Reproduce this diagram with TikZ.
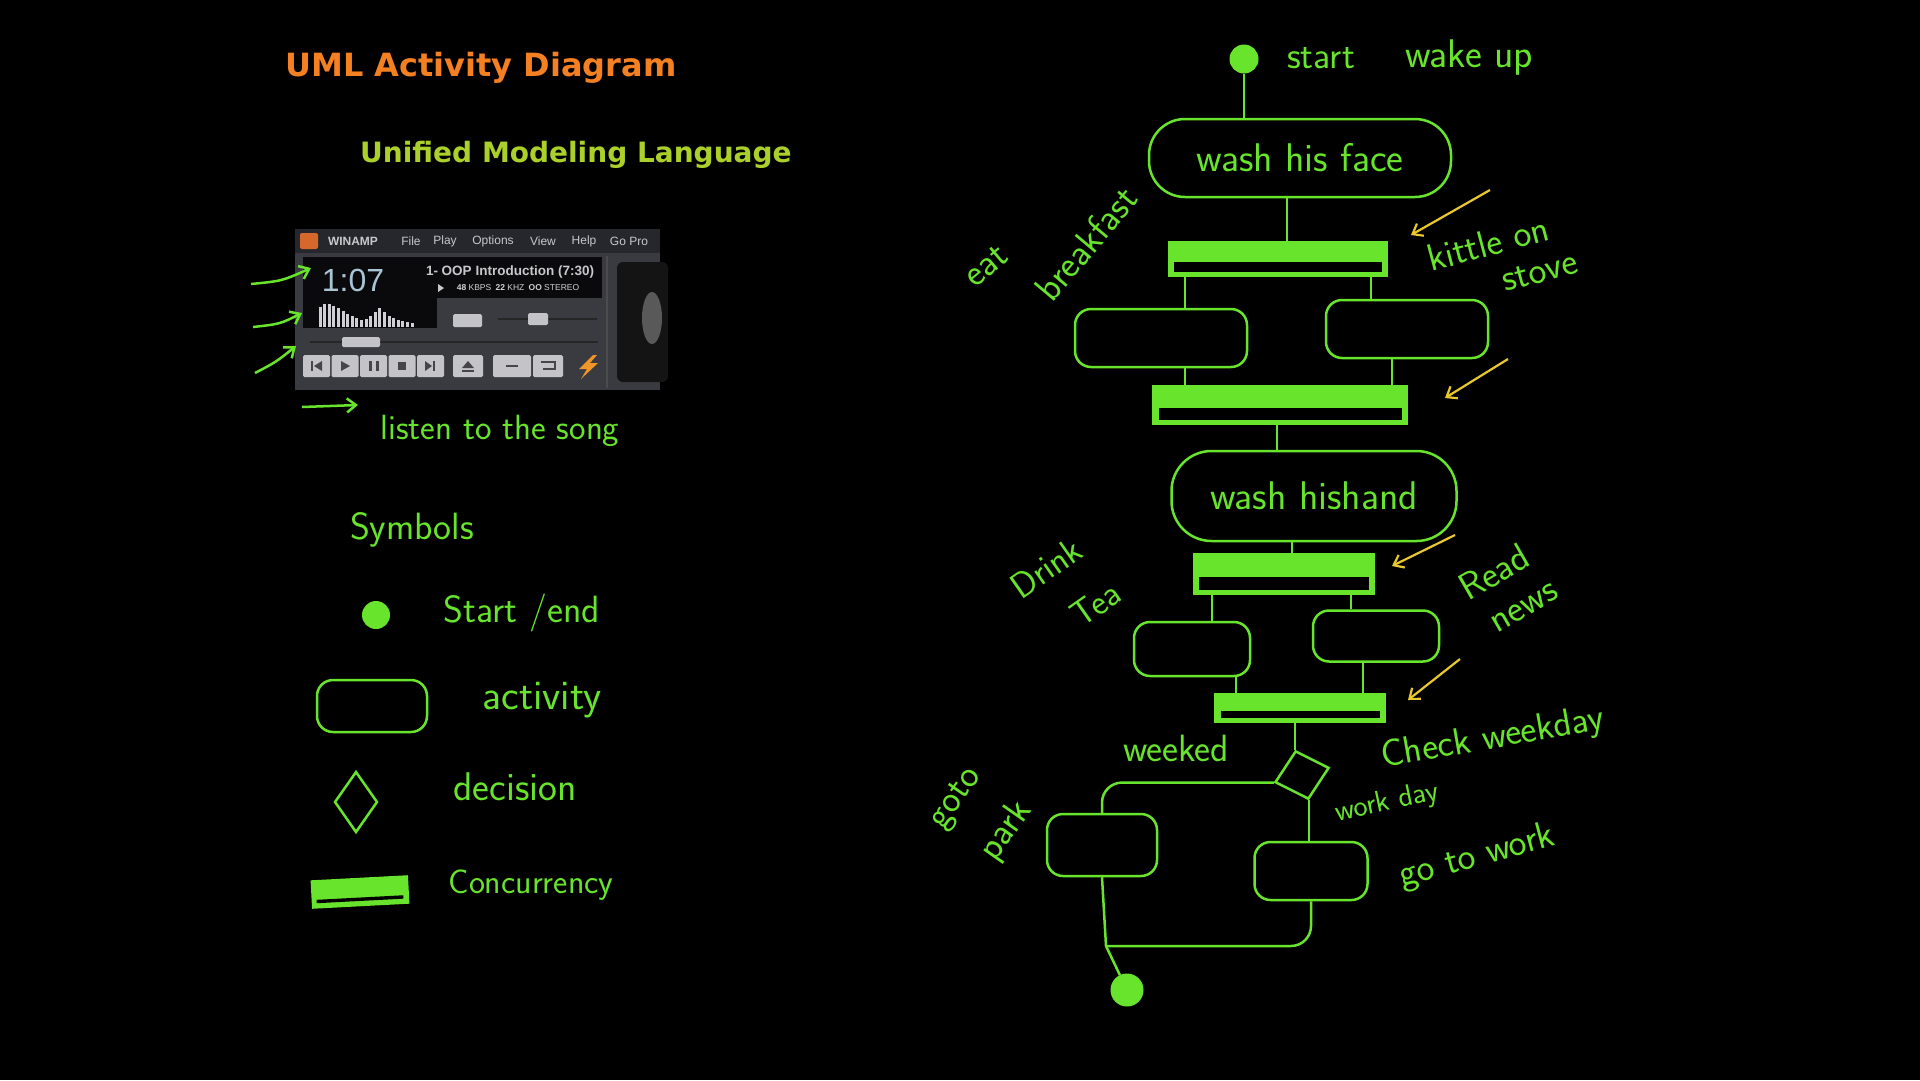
\documentclass[tikz,border=0pt]{standalone}
\usepackage{fontspec}
\newfontfamily\titlefont{DejaVu Sans}
\newfontfamily\wfont{Liberation Sans}
\usetikzlibrary{positioning,shapes.geometric,arrows.meta,calc}

\definecolor{hgreen}{RGB}{104,228,44}
\definecolor{hyellow}{RGB}{232,200,44}
\definecolor{umlorange}{RGB}{244,128,34}
\definecolor{umlolive}{RGB}{172,208,42}
\definecolor{wframe}{RGB}{58,59,64}
\definecolor{wbar}{RGB}{38,39,44}
\definecolor{wscreen}{RGB}{10,10,12}
\definecolor{wtext}{RGB}{200,200,204}
\definecolor{wdigit}{RGB}{170,196,212}
\definecolor{wbutton}{RGB}{196,196,200}
\definecolor{wglyph}{RGB}{70,70,74}
\definecolor{wlogo}{RGB}{214,104,44}
\definecolor{wbolt}{RGB}{240,150,40}

\newcommand\fsz[1]{\fontsize{#1}{#1}\selectfont}

\tikzset{
  hand/.style={text=hgreen, font=\sffamily\fsz{38}, inner sep=0pt},
  flow/.style={draw=hgreen, line width=2.5pt},
  activity/.style={rectangle, draw=hgreen, line width=2.5pt, rounded corners=16pt, inner sep=0pt},
  forkbar/.style={rectangle, draw=hgreen, fill=hgreen, line width=2.5pt, inner sep=0pt,
    path picture={\fill[black] ([xshift=5pt,yshift=4pt]path picture bounding box.south west)
      rectangle ([xshift=-5pt,yshift=-3pt]path picture bounding box.east);}},
  dot/.style={circle, fill=hgreen, draw=hgreen, line width=1pt, inner sep=0pt},
  decide/.style={diamond, draw=hgreen, line width=2.5pt, inner sep=0pt},
  pointer/.style={draw=hgreen, line width=2.5pt, -{Straight Barb[length=9pt,width=14pt]}},
  note/.style={draw=hyellow, line width=2.2pt, -{Straight Barb[length=9pt,width=14pt]}},
  wmenu/.style={text=wtext, font=\wfont\fsz{12}, inner sep=0pt},
  wkey/.style={fill=wbutton, rounded corners=1.5pt},
}

\begin{document}
\begin{tikzpicture}[x=1pt,y=-1pt]

  % Canvas: one unit = one pixel of the 1920x1080 frame
  \useasboundingbox (0,0) rectangle (1920,1080);
  \fill[black] (0,0) rectangle (1920,1080);

  % Titles
  \node[font=\titlefont\bfseries\fsz{32}, text=umlorange, anchor=base west, inner sep=0pt] (title) at (285,76) {UML Activity Diagram};
  \node[font=\titlefont\bfseries\fsz{28}, text=umlolive, anchor=base west, inner sep=0pt] (subtitle) at (360,162) {Unified Modeling Language};

  % Winamp player window
  \fill[wframe] (295,229) rectangle (660,390);
  \fill[wbar] (295,229) rectangle (660,253);
  \fill[wlogo, rounded corners=2pt] (300,233) rectangle (318,249);
  \node[wmenu, font=\wfont\bfseries\fsz{12}] (wName) at (353,241) {WINAMP};
  \foreach \x/\m in {411/File, 445/Play, 493/Options, 543/View, 584/Help, 629/Go Pro}
    \node[wmenu] (menu-\x) at (\x,241) {\m};

  % display
  \fill[wscreen] (303,257) rectangle (602,298);
  \fill[wscreen] (303,298) rectangle (437,328);
  \node[font=\wfont\fsz{32}, text=wdigit, inner sep=0pt] (wTime) at (353,280) {1:07};
  \node[font=\wfont\bfseries\fsz{13.5}, text=wtext, inner sep=0pt] (wSong) at (510,272) {1- OOP Introduction (7:30)};
  \fill[wtext] (438,284) -- (444,288) -- (438,292) -- cycle;
  \node[font=\wfont\fsz{8.5}, text=wtext!80, inner sep=0pt] (wInfo) at (518,288) {\textbf{48} KBPS\enspace \textbf{22} KHZ\enspace \textbf{OO} STEREO};
  \foreach \h [count=\i] in {20,23,23,21,19,16,13,11,9,7,8,11,15,19,15,11,9,7,6,5,4}
    \fill[wtext!85] ({314+4.6*\i},327) rectangle ++(3,-\h);

  % volume and seek bars
  \fill[wkey] (453,314) rectangle (482,327);
  \draw[black!85, line width=2pt] (498,319) -- (597,319);
  \fill[wkey] (528,313) rectangle (548,325);
  \draw[black!85, line width=2pt] (310,342) -- (598,342);
  \fill[wkey] (342,337) rectangle (380,347);

  % transport buttons
  \foreach \x in {303,331.5,360,388.5,417}
    \fill[wkey] (\x,355) rectangle ++(27,22);
  \fill[wkey] (453,355) rectangle (483,377);
  \fill[wkey] (493,355) rectangle (531,377);
  \fill[wkey] (533,355) rectangle (563,377);
  \fill[wglyph] (311,361) rectangle (313,371);
  \fill[wglyph] (322,361) -- (314,366) -- (322,371) -- cycle;
  \fill[wglyph] (341,361) -- (350,366) -- (341,371) -- cycle;
  \fill[wglyph] (369,361) rectangle (372,371);
  \fill[wglyph] (376,361) rectangle (379,371);
  \fill[wglyph] (398,362) rectangle (406,370);
  \fill[wglyph] (425,361) -- (432,366) -- (425,371) -- cycle;
  \fill[wglyph] (433,361) rectangle (435,371);
  \fill[wglyph] (462,368) -- (468,361) -- (474,368) -- cycle;
  \fill[wglyph] (462,370) rectangle (474,372);
  \draw[wglyph, line width=1.2pt] (506,366) -- (518,366);
  \draw[wglyph, line width=1.2pt] (541,362) -- (555,362) -- (555,369) -- (543,369);
  \fill[wbolt] (593,355) -- (579,369) -- (587,369) -- (581,379) -- (598,363) -- (590,363) -- (597,355) -- cycle;

  % side panel
  \draw[black!70, line width=1.5pt] (607,256) -- (607,388);
  \fill[black!92, rounded corners=6pt] (617,262) rectangle (668,382);
  \fill[black!65] (652,318) ellipse (10 and 26);

  % Pointers onto the player
  \draw[pointer] (251,284) .. controls (282,281) .. (311,268);
  \draw[pointer] (253,327) .. controls (280,324) .. (302,313);
  \draw[pointer] (255,373) .. controls (276,362) .. (296,346);
  \draw[pointer] (302,407) -- (358,405);
  \node[hand, font=\sffamily\fsz{35}] (lblListen) at (500,431) {listen to the song};

  % Legend of symbols
  \node[hand] (lblSymbols) at (412,530) {Symbols};
  \node[dot, minimum size=27pt] (legStart) at (376,615) {};
  \node[hand] (lblStartEnd) at (522,613) {Start /end};
  \node[activity, minimum width=110pt, minimum height=52pt] (legActivity) at (372,706) {};
  \node[hand, font=\sffamily\fsz{42}] (lblActivity) at (542,700) {activity};
  \node[decide, minimum width=43pt, minimum height=61pt] (legDecision) at (356,802) {};
  \node[hand, font=\sffamily\fsz{40}] (lblDecision) at (515,787) {decision};
  \node[forkbar, minimum width=95pt, minimum height=26pt, rotate=3] (legBar) at (360,892) {};
  \node[hand, font=\sffamily\fsz{34}] (lblConc) at (531,885) {Concurrency};

  % Activity diagram
  \node[dot, minimum size=28pt] (start) at (1244,59) {};
  \node[hand] (lblStart) at (1321,58) {start};
  \node[hand, font=\sffamily\fsz{40}] (lblWake) at (1469,58) {wake up};
  \node[activity, hand, font=\sffamily\fsz{40}, minimum width=302pt, minimum height=78pt, rounded corners=36pt] (face) at (1300,158) {wash his face};
  \node[forkbar, minimum width=218pt, minimum height=34pt] (bar1) at (1278,259) {};
  \node[activity, minimum width=172pt, minimum height=58pt] (boxA) at (1161,338) {};
  \node[activity, minimum width=162pt, minimum height=58pt] (boxB) at (1407,329) {};
  \node[forkbar, minimum width=253pt, minimum height=37pt] (bar2) at (1280,405) {};
  \node[activity, hand, font=\sffamily\fsz{40}, minimum width=285pt, minimum height=90pt, rounded corners=40pt] (hands) at (1314,496) {wash hishand};
  \node[forkbar, minimum width=180pt, minimum height=40pt] (bar3) at (1284,574) {};
  \node[activity, minimum width=116pt, minimum height=54pt] (boxC) at (1192,649) {};
  \node[activity, minimum width=126pt, minimum height=51pt] (boxD) at (1376,636) {};
  \node[forkbar, minimum width=169pt, minimum height=28pt] (bar4) at (1300,708) {};
  \node[decide, minimum width=56pt, minimum height=50pt, rotate=15] (check) at (1302,775) {};
  \node[activity, minimum width=110pt, minimum height=62pt] (park) at (1102,845) {};
  \node[activity, minimum width=113pt, minimum height=58pt] (work) at (1311,871) {};
  \node[dot, minimum size=32pt] (finish) at (1127,990) {};

  % Labels round the diagram
  \node[hand, rotate=15] (lblKettle) at (1488,243) {kittle on};
  \node[hand, rotate=15] (lblStove) at (1540,272) {stove};
  \node[hand, rotate=40] (lblEat) at (986,266) {eat};
  \node[hand, rotate=50] (lblBreakfast) at (1086,243) {breakfast};
  \node[hand, font=\sffamily\fsz{36}, rotate=35] (lblDrink) at (1046,568) {Drink};
  \node[hand, font=\sffamily\fsz{36}, rotate=35] (lblTea) at (1096,604) {Tea};
  \node[hand, rotate=30] (lblRead) at (1494,572) {Read};
  \node[hand, rotate=30] (lblNews) at (1525,608) {news};
  \node[hand] (lblWeekend) at (1176,748) {weeked};
  \node[hand, rotate=10] (lblCheck) at (1493,739) {Check weekday};
  \node[hand, font=\sffamily\fsz{30}, rotate=12] (lblWorkday) at (1387,803) {work day};
  \node[hand, rotate=55] (lblGoto) at (957,799) {goto};
  \node[hand, rotate=55] (lblPark) at (1006,831) {park};
  \node[hand, rotate=15] (lblWork) at (1477,857) {go to work};

  % Columns where the flow lines run
  \coordinate (colF) at (1287,0);
  \coordinate (colA) at (1185,0);
  \coordinate (colB) at (1371,0);
  \coordinate (colBb) at (1392,0);
  \coordinate (colH) at (1277,0);
  \coordinate (colHb) at (1292,0);
  \coordinate (colC) at (1212,0);
  \coordinate (colD) at (1351,0);
  \coordinate (colCb) at (1236,0);
  \coordinate (colDb) at (1363,0);
  \coordinate (merge) at (1106,946);

  % Flow lines
  \draw[flow] (start) -- (start |- face.north);
  \draw[flow] (face.south -| colF) -- (bar1.north -| colF);
  \draw[flow] (bar1.south -| colA) -- (boxA.north -| colA);
  \draw[flow] (bar1.south -| colB) -- (boxB.north -| colB);
  \draw[flow] (boxA.south -| colA) -- (bar2.north -| colA);
  \draw[flow] (boxB.south -| colBb) -- (bar2.north -| colBb);
  \draw[flow] (bar2.south -| colH) -- (hands.north -| colH);
  \draw[flow] (hands.south -| colHb) -- (bar3.north -| colHb);
  \draw[flow] (bar3.south -| colC) -- (boxC.north -| colC);
  \draw[flow] (bar3.south -| colD) -- (boxD.north -| colD);
  \draw[flow] (boxC.south -| colCb) -- (bar4.north -| colCb);
  \draw[flow] (boxD.south -| colDb) -- (bar4.north -| colDb);
  \draw[flow] (bar4.south -| check.north) -- (check.north);
  \draw[flow, rounded corners=20pt] (check.west) -| (park.north);
  \draw[flow] (check.south) -- (check.south |- work.north);
  \draw[flow, rounded corners=20pt] (work.south) |- (merge);
  \draw[flow] (park.south) -- (merge) -- (finish);

  % Notes pointing at the forks and joins
  \draw[note] (1490,190) -- (1411,235);
  \draw[note] (1508,359) -- (1445,398);
  \draw[note] (1455,535) -- (1392,566);
  \draw[note] (1460,659) -- (1408,700);

\end{tikzpicture}
\end{document}
